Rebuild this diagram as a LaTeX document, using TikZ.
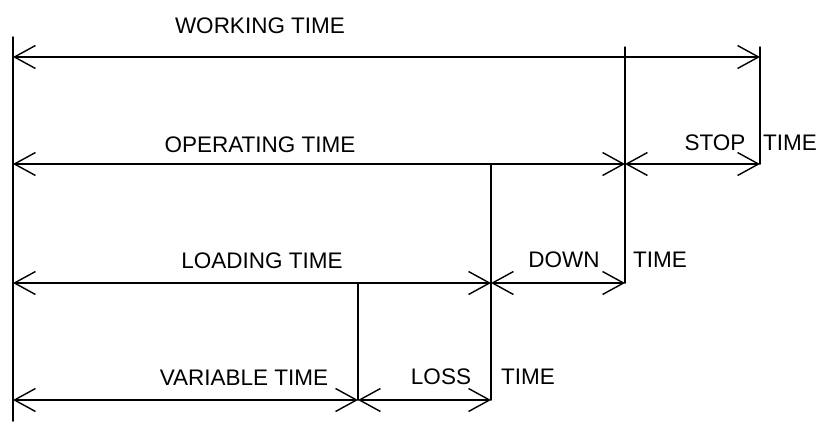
\documentclass[tikz,border=0pt]{standalone}
\usepackage{fontspec}
\setmainfont{Liberation Sans}
\usetikzlibrary{arrows.meta}
\begin{document}
\begin{tikzpicture}[x=1pt,y=-1pt,
  vline/.style={line width=1.5pt, line cap=round},
  dim/.style={line width=1.5pt, {Straight Barb[length=21pt,width=23pt,line width=1.4pt]}-{Straight Barb[length=21pt,width=23pt,line width=1.4pt]}},
  lbl/.style={anchor=base, inner sep=0pt, font=\fontsize{22.5}{24}\selectfont},
  lbll/.style={lbl, anchor=base west}]
\useasboundingbox (0,0) rectangle (820,421);
% coordinates
\coordinate (lt) at (13,37);
\coordinate (lb) at (13,421);
\coordinate (a0) at (13,57);
\coordinate (a1) at (760,57);
\coordinate (rt) at (760,47);
\coordinate (mt) at (625,47);
\coordinate (b0) at (13,164);
\coordinate (b1) at (625,164);
\coordinate (b2) at (760,164);
\coordinate (c0) at (13,283);
\coordinate (c1) at (491,283);
\coordinate (c2) at (625,283);
\coordinate (d0) at (13,400);
\coordinate (d1) at (358,400);
\coordinate (d2) at (491,400);
% vertical lines
\draw[vline] (lt) -- (lb);
\draw[vline] (rt) -- (b2);
\draw[vline] (mt) -- (c2);
\draw[vline] (b1 -| c1) -- (d2);
\draw[vline] (c0 -| d1) -- (d1);
% dimension arrows
\draw[dim] (a0) -- (a1);
\draw[dim] (b0) -- (b1);
\draw[dim] (b1) -- (b2);
\draw[dim] (c0) -- (c1);
\draw[dim] (c1) -- (c2);
\draw[dim] (d0) -- (d1);
\draw[dim] (d1) -- (d2);
% labels
\node[lbl] (working) at (260,33) {WORKING TIME};
\node[lbl] (operating) at (260,152) {OPERATING TIME};
\node[lbl] (stop) at (715,150) {STOP};
\node[lbll] (stoptime) at (763,150) {TIME};
\node[lbl] (loading) at (262,268) {LOADING TIME};
\node[lbl] (down) at (564,267) {DOWN};
\node[lbll] (downtime) at (633,267) {TIME};
\node[lbl] (variable) at (244,385) {VARIABLE TIME};
\node[lbl] (loss) at (441,384) {LOSS};
\node[lbll] (losstime) at (501,384) {TIME};
\end{tikzpicture}
\end{document}
